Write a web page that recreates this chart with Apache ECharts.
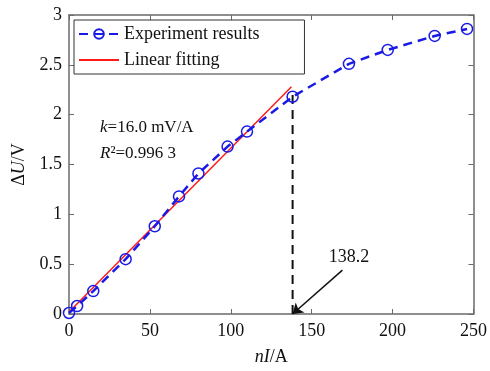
<!DOCTYPE html>
<html>
<head>
<meta charset="utf-8">
<script src="https://cdn.jsdelivr.net/npm/echarts@6/dist/echarts.min.js"></script>
<style>
  html, body { margin: 0; padding: 0; background: #fff; }
  #chart { width: 490px; height: 371px; }
</style>
</head>
<body>
<div id="chart"></div>
<script>
// measured points
var currentX = [0, 5, 15, 35, 53, 68, 80, 98, 110, 138.2, 173, 197, 226, 246];
var voltageY = [0.01, 0.08, 0.23, 0.55, 0.88, 1.18, 1.41, 1.68, 1.83, 2.18, 2.51, 2.65, 2.79, 2.86];

// linear fit end points
var fitX = [0, 137.5];
var fitY = [0.02, 2.28];

// knee marker
var kneeX = 138.2;
var kneeTop = 2.25;
var arrowFrom = [169, 0.44];
var arrowLabelPos = [173, 0.57];

var xTicks = [0, 250, 50];
var yTicks = [0, 3, 0.5];

var font = 'Liberation Serif, Times New Roman, serif';
var axisColor = '#6a6a6a';
var fs = 18;

function zip(xs, ys) {
    return xs.map(function(x, i) { return [x, ys[i]]; });
}

var chart = echarts.init(document.getElementById('chart'));

var baseX = {
    type: 'value',
    min: xTicks[0], max: xTicks[1], interval: xTicks[2],
    splitLine: { show: false },
    axisLine: { show: true, onZero: false, lineStyle: { color: axisColor, width: 1.5 } },
    axisTick: { show: true, inside: true, length: 5, lineStyle: { color: axisColor } }
};
var baseY = {
    type: 'value',
    min: yTicks[0], max: yTicks[1], interval: yTicks[2],
    splitLine: { show: false },
    axisLine: { show: true, onZero: false, lineStyle: { color: axisColor, width: 1.5 } },
    axisTick: { show: true, inside: true, length: 5, lineStyle: { color: axisColor } }
};

var option = {
    animation: false,
    backgroundColor: '#fff',
    textStyle: { fontFamily: font },
    grid: { left: 69, right: 13, top: 15, bottom: 54 },
    legend: {
        orient: 'vertical',
        left: 74, top: 20,
        padding: [5, 45, 5, 4],
        itemGap: 8,
        itemWidth: 40, itemHeight: 12,
        borderColor: '#333', borderWidth: 1,
        backgroundColor: '#fff',
        textStyle: { fontFamily: font, fontSize: fs, color: '#111' },
        data: [
            'Experiment results',
            { name: 'Linear fitting', itemStyle: { opacity: 0 } }
        ]
    },
    xAxis: [
        Object.assign({}, baseX, {
            position: 'bottom',
            name: '{i|nI}{n|/A}',
            nameLocation: 'middle',
            nameGap: 34,
            nameTextStyle: {
                rich: {
                    i: { fontFamily: font, fontSize: fs, fontStyle: 'italic', color: '#111' },
                    n: { fontFamily: font, fontSize: fs, color: '#111' }
                }
            },
            axisLabel: { fontFamily: font, fontSize: fs, color: '#111', margin: 8 }
        }),
        Object.assign({}, baseX, { position: 'top', axisLabel: { show: false } })
    ],
    yAxis: [
        Object.assign({}, baseY, {
            position: 'left',
            name: '{n|Δ}{i|U}{n|/V}',
            nameLocation: 'middle',
            nameGap: 41,
            nameRotate: 90,
            nameTextStyle: {
                rich: {
                    i: { fontFamily: font, fontSize: fs, fontStyle: 'italic', color: '#111' },
                    n: { fontFamily: font, fontSize: fs, color: '#111' }
                }
            },
            axisLabel: { fontFamily: font, fontSize: fs, color: '#111', margin: 7 }
        }),
        Object.assign({}, baseY, { position: 'right', axisLabel: { show: false } })
    ],
    graphic: [{
        type: 'text',
        left: 100, top: 119,
        style: {
            text: '{i|k}{n|=16.0 mV/A}\n{i|R}{n|²=0.996 3}',
            rich: {
                i: { fontFamily: font, fontSize: 17, fontStyle: 'italic', fill: '#111', lineHeight: 26 },
                n: { fontFamily: font, fontSize: 17, fill: '#111', lineHeight: 26 }
            }
        }
    }],
    series: [
        {
            name: 'Linear fitting',
            type: 'line',
            data: zip(fitX, fitY),
            symbol: 'none',
            lineStyle: { color: '#ff1a1a', width: 1.5 },
            itemStyle: { color: '#ff1a1a' },
            z: 3
        },
        {
            name: 'knee',
            type: 'line',
            data: [[kneeX, 0], [kneeX, kneeTop]],
            symbol: 'none',
            lineStyle: { color: '#111', width: 2, type: [9, 6] },
            z: 2,
            markLine: {
                silent: true,
                symbol: ['none', 'arrow'],
                symbolSize: 10,
                lineStyle: { color: '#111', width: 1.5, type: 'solid' },
                label: { show: false },
                data: [[
                    { coord: arrowFrom },
                    { coord: [kneeX, 0] }
                ]]
            },
            markPoint: {
                symbol: 'circle',
                symbolSize: 0,
                label: {
                    show: true,
                    formatter: String(kneeX),
                    fontFamily: font, fontSize: fs, color: '#111'
                },
                data: [{ coord: arrowLabelPos }]
            }
        },
        {
            name: 'Experiment results',
            type: 'line',
            data: zip(currentX, voltageY),
            symbol: 'circle',
            symbolSize: 11,
            showAllSymbol: true,
            lineStyle: { color: '#1a1ae6', width: 2.5, type: [9, 6] },
            itemStyle: { color: 'rgba(255,255,255,0)', borderColor: '#1a1ae6', borderWidth: 1.5 },
            z: 4
        }
    ]
};

chart.setOption(option);
</script>
</body>
</html>
